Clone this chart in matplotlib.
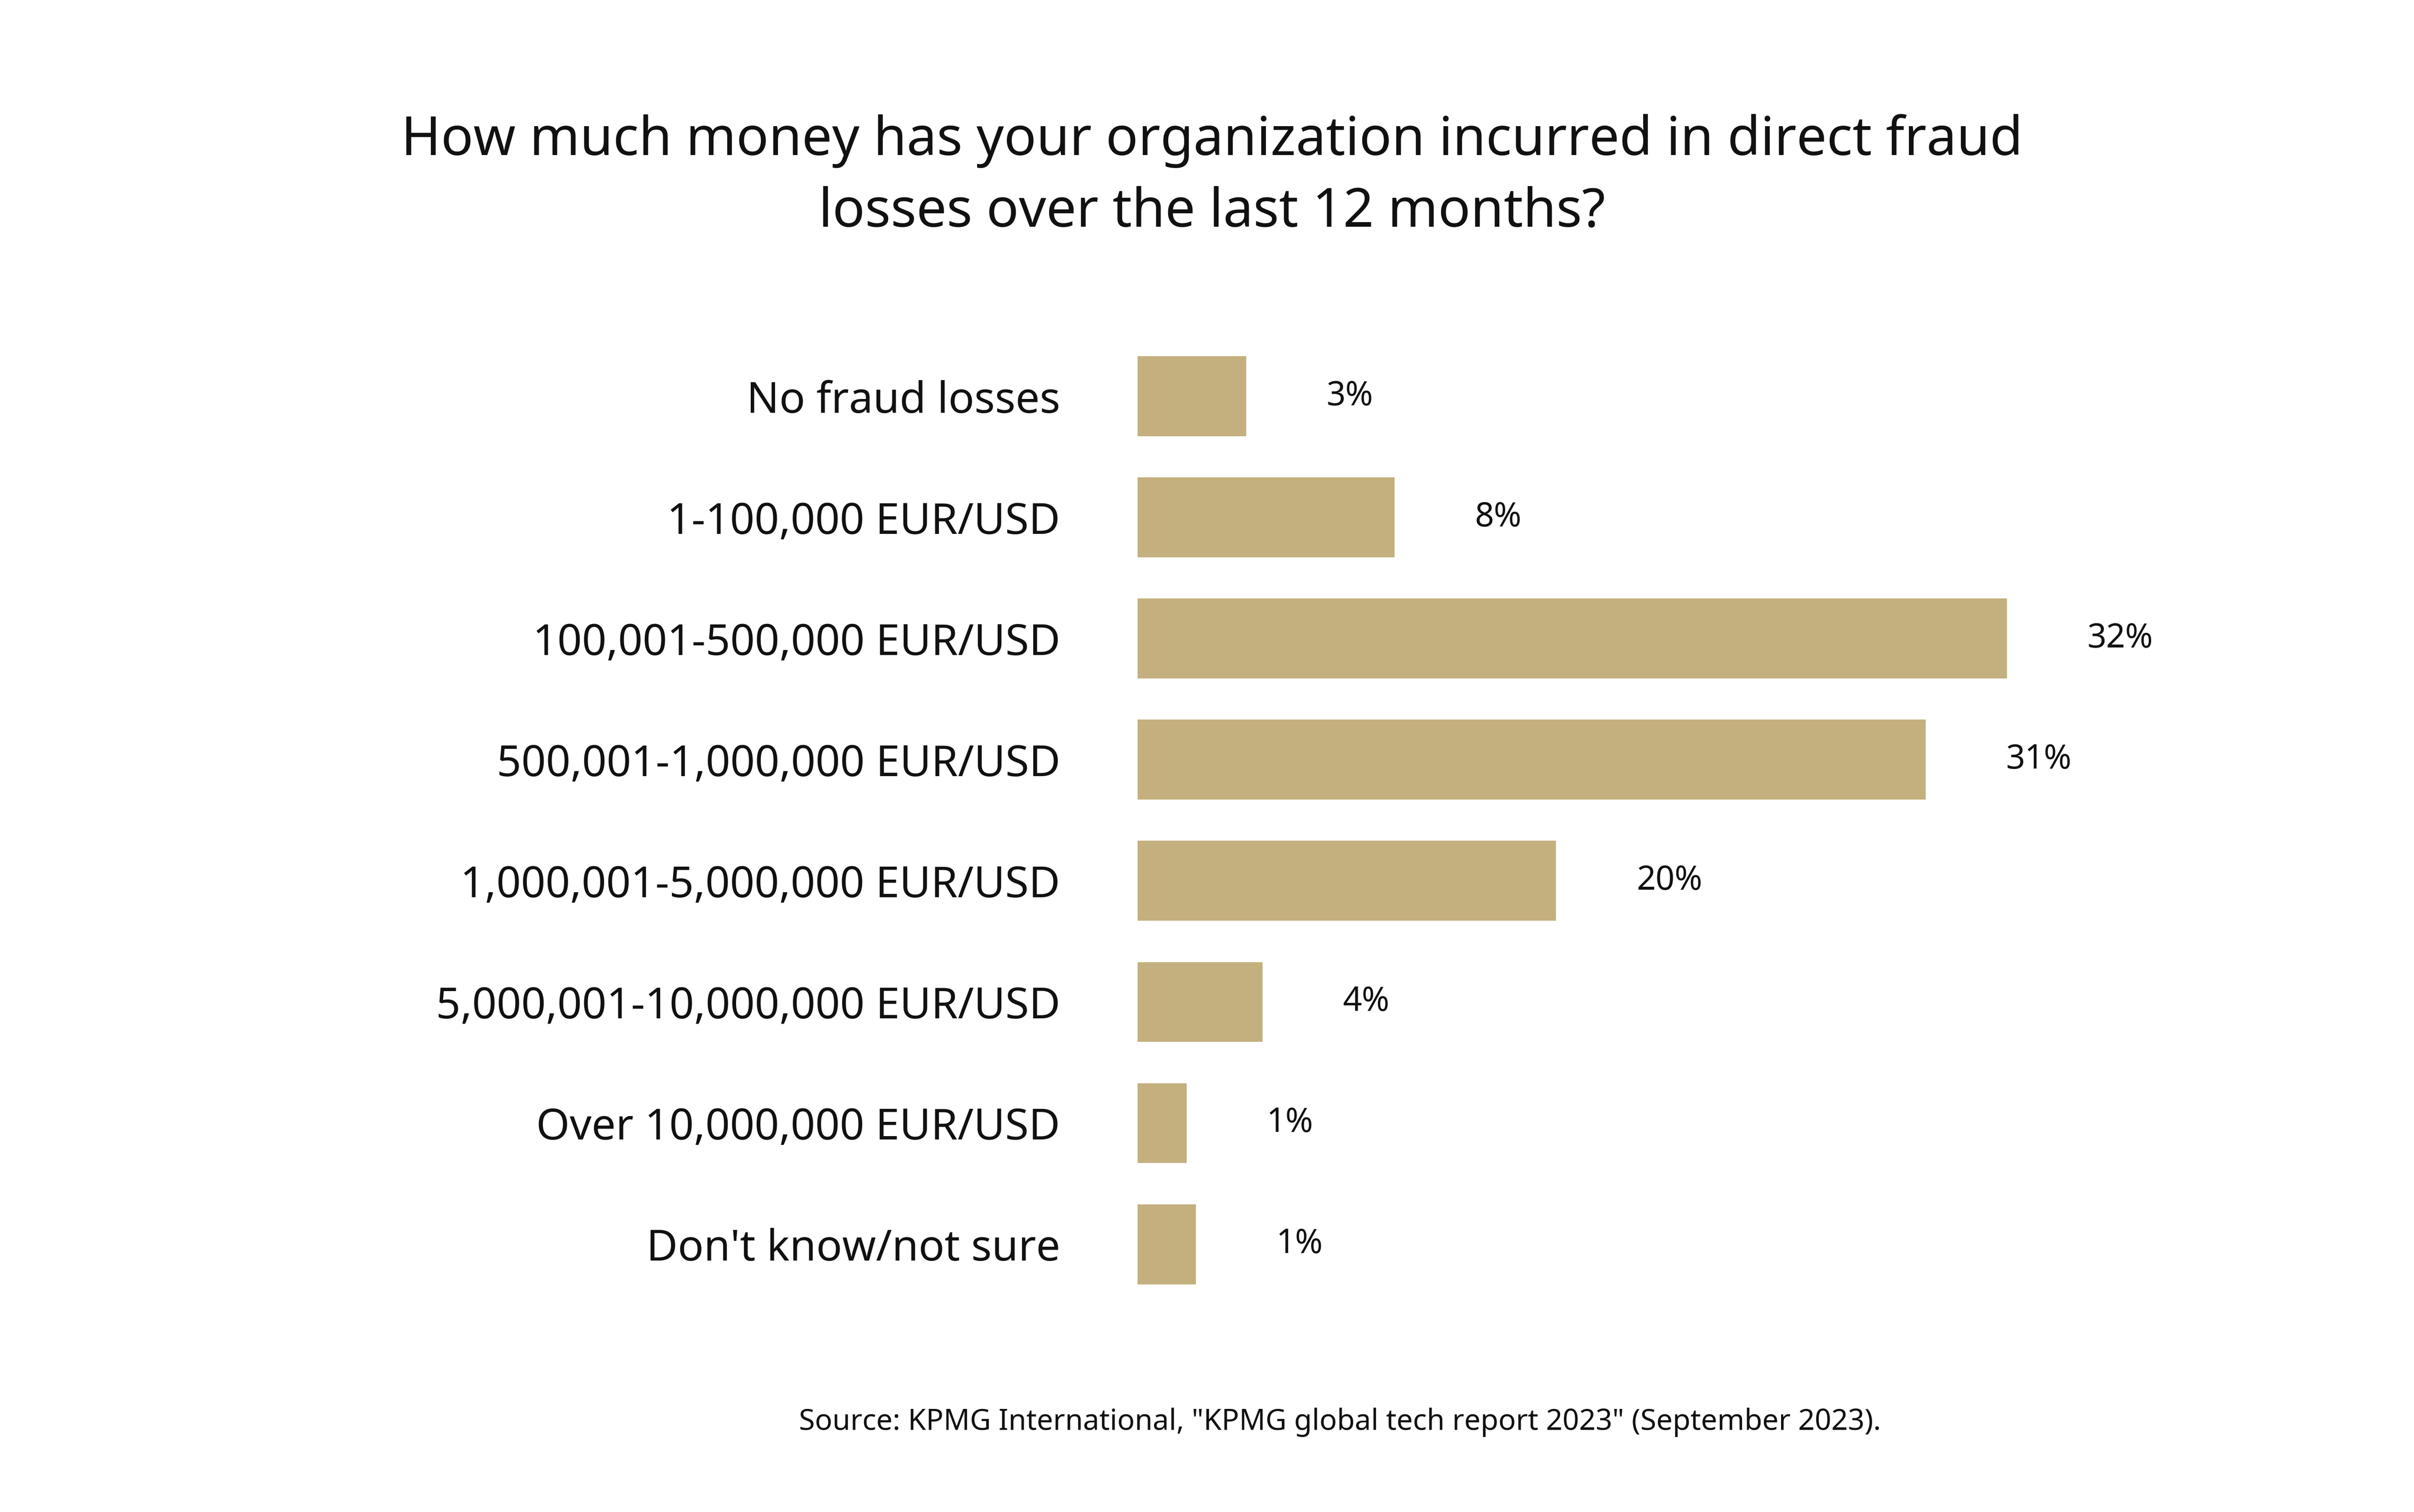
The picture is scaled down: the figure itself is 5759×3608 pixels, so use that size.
import matplotlib.pyplot as plt

categories = ["No fraud losses", "1-100,000 EUR/USD", "100,001-500,000 EUR/USD",
              "500,001-1,000,000 EUR/USD", "1,000,001-5,000,000 EUR/USD",
              "5,000,001-10,000,000 EUR/USD", "Over 10,000,000 EUR/USD",
              "Don't know/not sure"]
# bar lengths as drawn in the source (not strictly proportional to the labels)
bar_lengths = [4.0, 9.45, 32.0, 29.0, 15.4, 4.6, 1.8, 2.15]
value_labels = ["3%", "8%", "32%", "31%", "20%", "4%", "1%", "1%"]

gold = "#c4b07e"
plt.rcParams["font.family"] = "Noto Sans"

fig = plt.figure(figsize=(15.6, 9.772), dpi=369.23)
ax = fig.add_axes([0.4712, 0.137, 0.4558, 0.641])

y = list(range(len(categories)))
ax.barh(y, bar_lengths, height=0.66, color=gold)
for yi, v, lab in zip(y, bar_lengths, value_labels):
    ax.text(v + 2.95, yi, lab, va="center", ha="left", fontsize=15.5,
            fontweight="bold", color="#111111")

ax.set_xlim(0, 40.5)
ax.set_ylim(7.5, -0.5)
ax.set_yticks(y)
ax.set_yticklabels(categories, fontsize=20, color="#111111")
ax.tick_params(axis="y", length=0, pad=36)
ax.set_xticks([])
for s in ax.spines.values():
    s.set_visible(False)

fig.text(0.502, 0.883, "How much money has your organization incurred in direct fraud\nlosses over the last 12 months?",
         ha="center", va="center", fontsize=25, fontweight="bold", linespacing=1.45, color="#111111")
fig.text(0.555, 0.0594, "Source: KPMG International, \"KPMG global tech report 2023\" (September 2023).",
         ha="center", va="center", fontsize=13.5, color="#111111")

fig.savefig("out.png", dpi=369.23, facecolor="white")
